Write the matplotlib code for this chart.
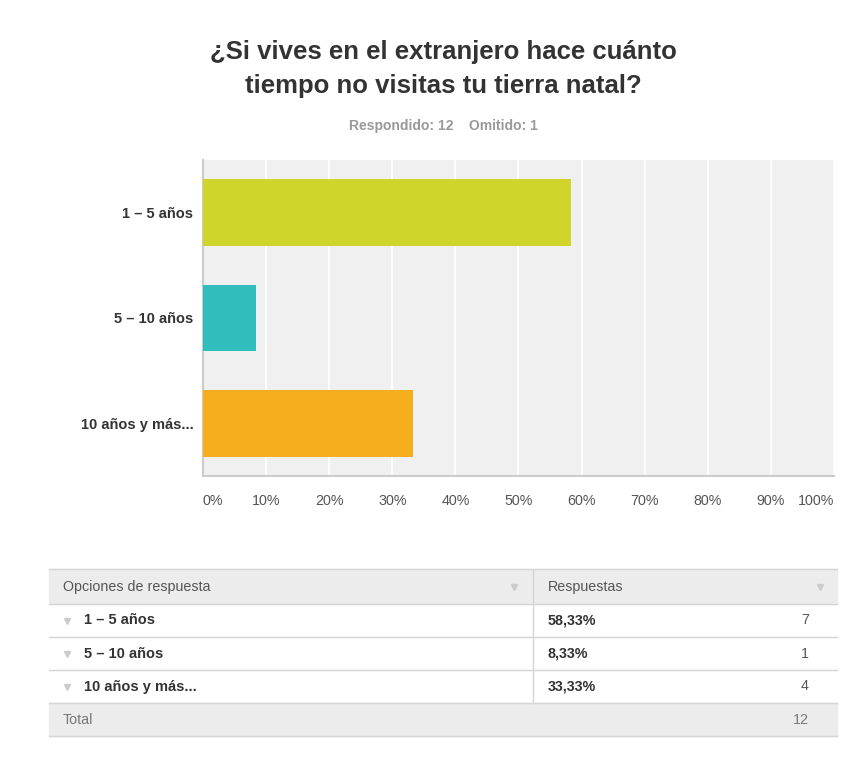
import matplotlib.pyplot as plt
from matplotlib.patches import Rectangle

plt.rcParams['font.family'] = ['Liberation Sans', 'DejaVu Sans']

# respuestas de la encuesta
categorias = ['1 – 5 años', '5 – 10 años', '10 años y más...']
porcentajes = [58.33, 8.33, 33.33]
respuestas = [7, 1, 4]
colores = ['#cfd52a', '#32bdbd', '#f6ae1f']
ticks = [0, 10, 20, 30, 40, 50, 60, 70, 80, 90, 100]
respondido = 12
omitido = 1

W, H = 862, 781
fig = plt.figure(figsize=(W / 100, H / 100), dpi=100)
fig.patch.set_facecolor('white')

# --- grafico de barras ---
ax = fig.add_axes([203 / W, 1 - 476 / H, 631 / W, 316 / H])
ax.set_facecolor('#f0f0f0')
pos = list(range(len(categorias)))
ax.barh(pos, porcentajes, height=0.63, color=colores, zorder=3)
ax.set_xlim(0, 100)
ax.set_ylim(len(categorias) - 0.5, -0.5)
ax.set_xticks(ticks)
ax.set_xticklabels([])
for t in ticks:
    ax.axvline(t, color='white', lw=1.2, zorder=1)
for s in ['top', 'right']:
    ax.spines[s].set_visible(False)
ax.spines['left'].set_color('#cccccc')
ax.spines['bottom'].set_color('#cccccc')
ax.spines['left'].set_linewidth(1.5)
ax.spines['bottom'].set_linewidth(1.5)
ax.tick_params(axis='x', length=0)
ax.tick_params(axis='y', length=0, pad=7)
ax.set_yticks(pos)
ax.set_yticklabels(categorias, fontsize=10.5, fontweight='bold', color='#333333')

# etiquetas del eje x, la primera y la ultima van hacia dentro
for t in ticks:
    ha = 'center'
    if t == 0:
        ha = 'left'
    elif t == 100:
        ha = 'right'
    ax.text(t, -0.08, f'{t}%', transform=ax.get_xaxis_transform(),
            ha=ha, va='center', fontsize=10.3, color='#555555')

# --- titulo ---
fig.text(443 / W, 1 - 52 / H, '¿Si vives en el extranjero hace cuánto', ha='center',
         va='center', fontsize=18.5, fontweight='bold', color='#333333')
fig.text(443 / W, 1 - 86 / H, 'tiempo no visitas tu tierra natal?', ha='center',
         va='center', fontsize=18.5, fontweight='bold', color='#333333')
fig.text(443 / W, 1 - 126 / H, f'Respondido: {respondido}    Omitido: {omitido}',
         ha='center', va='center', fontsize=10, fontweight='bold', color='#999999')

# --- tabla ---
tb = fig.add_axes([0, 0, 1, 1], zorder=-1)
tb.set_xlim(0, W)
tb.set_ylim(H, 0)
tb.axis('off')

x0, x1, xm = 49, 837, 533
filas = [569, 604, 637, 670, 703, 736]
tb.add_patch(Rectangle((x0, filas[0]), x1 - x0, filas[1] - filas[0], color='#ececec'))
tb.add_patch(Rectangle((x0, filas[4]), x1 - x0, filas[5] - filas[4], color='#ececec'))
for y in filas:
    tb.plot([x0, x1], [y, y], color='#d5d5d5', lw=1)
tb.plot([xm, xm], [filas[0], filas[4]], color='#d5d5d5', lw=1)

yc = [(filas[i] + filas[i + 1]) / 2 for i in range(len(filas) - 1)]
tb.text(63, yc[0], 'Opciones de respuesta', va='center', fontsize=10.3, color='#555555')
tb.text(548, yc[0], 'Respuestas', va='center', fontsize=10.3, color='#555555')
tb.plot([514, 820], [yc[0], yc[0]], 'v', color='#cccccc', ms=5)

for i, (cat, p, n) in enumerate(zip(categorias, porcentajes, respuestas)):
    y = yc[i + 1]
    tb.plot(67, y, 'v', color='#cccccc', ms=5)
    tb.text(84, y, cat, va='center', fontsize=10.5, fontweight='bold', color='#333333')
    tb.text(548, y, f'{p:.2f}%'.replace('.', ','), va='center', fontsize=10.3,
            fontweight='bold', color='#333333')
    tb.text(809, y, str(n), va='center', ha='right', fontsize=10.3, color='#555555')

tb.text(63, yc[4], 'Total', va='center', fontsize=10.3, color='#777777')
tb.text(809, yc[4], str(sum(respuestas)), va='center', ha='right', fontsize=10.3,
        color='#777777')

fig.savefig('out.png', dpi=100)
